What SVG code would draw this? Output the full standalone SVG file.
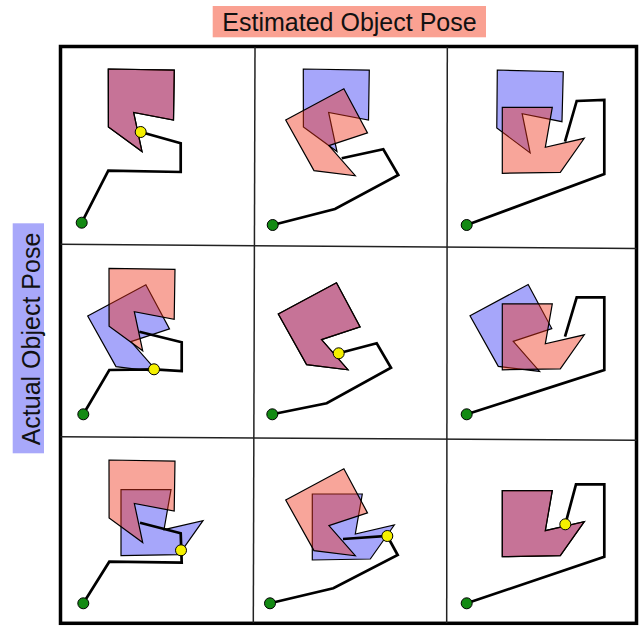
<svg xmlns="http://www.w3.org/2000/svg" xmlns:xlink="http://www.w3.org/1999/xlink" width="639" height="626" viewBox="0 0 639 626">
<style>
.lbl{font-family:"Liberation Sans",Arial,Helvetica,sans-serif;font-size:25px;fill:#111}
.blue{fill:#A6A6FA;stroke:#000;stroke-width:1.2;stroke-linejoin:miter}
.red{fill:rgb(240,50,25);fill-opacity:0.44;stroke:#000;stroke-width:1.2;stroke-linejoin:miter}
.arm{fill:none;stroke:#000;stroke-width:2.7;stroke-linejoin:miter}
.base{fill:#138A13;stroke:#000;stroke-width:1}
.tip{fill:#F5F000;stroke:#000;stroke-width:1}
.grid{stroke:#222;stroke-width:1.5;fill:none}
</style>
<defs>
<polygon id="obj" points="0,0 66,0 66,50 26,43 35,82 1,58"/>
</defs>
<rect width="639" height="626" fill="#fff"/>
<g id="title-estimated">
<rect x="212.7" y="6" width="273.3" height="31.3" fill="#FAA192"/>
<text class="lbl" x="349.5" y="31" text-anchor="middle">Estimated Object Pose</text>
</g>
<g id="title-actual">
<rect x="12.7" y="223.3" width="31.3" height="230" fill="#A8A8FA"/>
<text class="lbl" transform="translate(40,339) rotate(-90)" text-anchor="middle">Actual Object Pose</text>
</g>
<g id="frame">
<rect class="grid" x="60.5" y="46.5" width="576" height="576.8" style="stroke:#000;stroke-width:3.5"/>
<line class="grid" x1="255" y1="47" x2="253.3" y2="623"/>
<line class="grid" x1="447.3" y1="47" x2="446.7" y2="623"/>
<line class="grid" x1="60.5" y1="244.3" x2="636.5" y2="248.5"/>
<line class="grid" x1="60.5" y1="436.7" x2="636.5" y2="440.3"/>
</g>
<g id="cell-r1c1">
<use xlink:href="#obj" class="blue" transform="translate(108.3,69) rotate(0.9)"/>
<use xlink:href="#obj" class="red" transform="translate(108.3,69) rotate(0.9)"/>
<polyline class="arm" points="81.7,222.7 108.3,170.7 180.7,172 180.7,143.3 140.7,132"/>
<circle class="base" cx="81.7" cy="222.7" r="5.5"/>
<circle class="tip" cx="140.7" cy="132" r="5.5"/>
</g>
<g id="cell-r1c2">
<use xlink:href="#obj" class="blue" transform="translate(303.3,69) rotate(0.9)"/>
<use xlink:href="#obj" class="red" transform="translate(285.7,120) rotate(-28.2)"/>
<polyline class="arm" points="272.7,225 335,209 398.3,175 383.3,149.3 341.7,158.3"/>
<circle class="base" cx="272.7" cy="225" r="5.5"/>
</g>
<g id="cell-r1c3">
<use xlink:href="#obj" class="blue" transform="translate(497.3,70) rotate(1.5)"/>
<use xlink:href="#obj" class="red" transform="translate(502.3,173.3) rotate(-90)"/>
<polyline class="arm" points="466.7,225 604.3,174 604.3,100 576.7,101 565,141.7"/>
<circle class="base" cx="466.7" cy="225" r="5.5"/>
</g>
<g id="cell-r2c1">
<use xlink:href="#obj" class="blue" transform="translate(87.7,316) rotate(-28.2)"/>
<use xlink:href="#obj" class="red" transform="translate(109,268.3) rotate(0.9)"/>
<polyline class="arm" points="83.3,414.3 109.3,370 154,369.3 181.7,371 181.7,342.3 139.3,331.7"/>
<circle class="base" cx="83.3" cy="414.3" r="5.5"/>
<circle class="tip" cx="154" cy="369.3" r="5.5"/>
</g>
<g id="cell-r2c2">
<use xlink:href="#obj" class="blue" transform="translate(278.3,314) rotate(-28.2)"/>
<use xlink:href="#obj" class="red" transform="translate(278.3,314) rotate(-28.2)"/>
<polyline class="arm" points="272.3,414.3 326.7,403.3 391,367.7 376.7,343.3 338.7,353.3"/>
<circle class="base" cx="272.3" cy="414.3" r="5.5"/>
<circle class="tip" cx="338.7" cy="353.3" r="5.5"/>
</g>
<g id="cell-r2c3">
<use xlink:href="#obj" class="blue" transform="translate(470,315.7) rotate(-28.2)"/>
<use xlink:href="#obj" class="red" transform="translate(502.3,369.8) rotate(-90)"/>
<polyline class="arm" points="466.7,414.3 604.3,370 604.3,297.3 576.7,297.3 565,336.7"/>
<circle class="base" cx="466.7" cy="414.3" r="5.5"/>
</g>
<g id="cell-r3c1">
<use xlink:href="#obj" class="blue" transform="translate(121,555.7) rotate(-90)"/>
<use xlink:href="#obj" class="red" transform="translate(109,460) rotate(0.9)"/>
<polyline class="arm" points="83.3,603.3 109.3,561.7 181.7,562.7 180.7,533.3 140,522.7"/>
<circle class="base" cx="83.3" cy="603.3" r="5.5"/>
<circle class="tip" cx="181" cy="550.3" r="5.5"/>
</g>
<g id="cell-r3c2">
<use xlink:href="#obj" class="blue" transform="translate(312.3,560) rotate(-90)"/>
<use xlink:href="#obj" class="red" transform="translate(285.7,500) rotate(-28.2)"/>
<polyline class="arm" points="270,603.3 333.3,588.3 397.7,555 387.3,536 343,539"/>
<circle class="base" cx="270" cy="603.3" r="5.5"/>
<circle class="tip" cx="387.3" cy="536" r="5.5"/>
</g>
<g id="cell-r3c3">
<use xlink:href="#obj" class="blue" transform="translate(502.3,556.7) rotate(-90)"/>
<use xlink:href="#obj" class="red" transform="translate(502.3,556.7) rotate(-90)"/>
<polyline class="arm" points="466.7,603.3 604.3,556.7 604.3,484.3 576,484.3 565.3,524.3"/>
<circle class="base" cx="466.7" cy="603.3" r="5.5"/>
<circle class="tip" cx="565.3" cy="524.3" r="5.5"/>
</g>
</svg>
